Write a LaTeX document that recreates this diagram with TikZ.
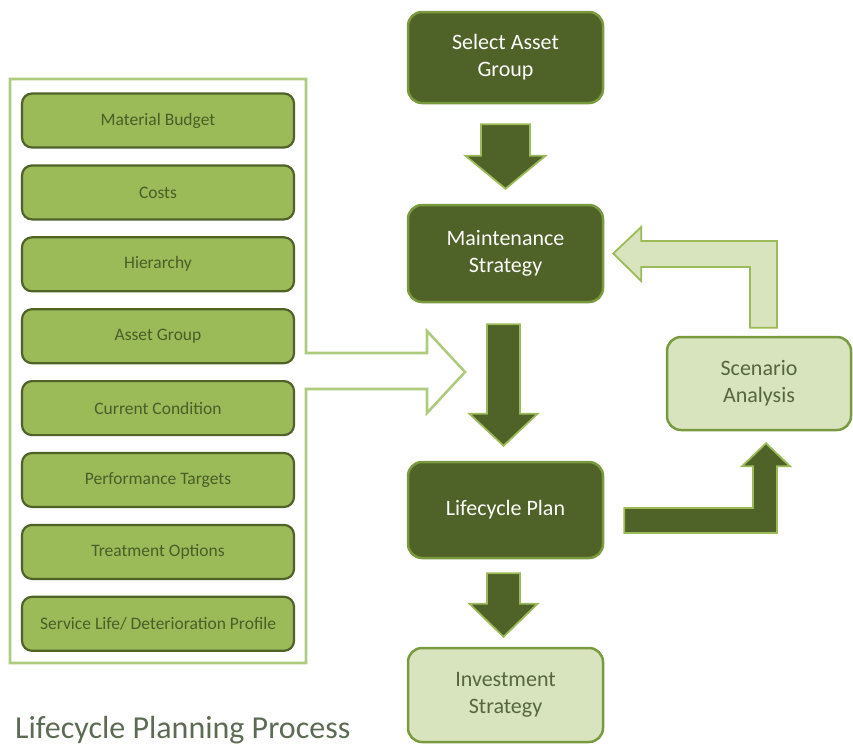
\documentclass[tikz,border=0pt]{standalone}
\usepackage{fontspec}
\setmainfont{Carlito}
\usetikzlibrary{calc}
\definecolor{olivedark}{HTML}{4F6228}
\definecolor{olivemid}{HTML}{9BBB59}
\definecolor{oliveedge}{HTML}{7A9A40}
\definecolor{olivepale}{HTML}{D7E4BD}
\definecolor{panelline}{HTML}{AFCB7E}
\definecolor{titlegray}{HTML}{5E6B54}
\definecolor{inputtext}{HTML}{4A5E27}
\definecolor{paletext}{HTML}{56663F}

\begin{document}
\begin{tikzpicture}[x=1pt,y=-1pt,
    stepdark/.style={rectangle, rounded corners=14pt, draw=oliveedge, line width=2.5pt,
      fill=olivedark, text=white!92!olivepale, minimum width=195pt, align=center,
      font=\fontsize{22}{27}\selectfont},
    steplight/.style={stepdark, fill=olivepale, draw=oliveedge, text=paletext},
    input/.style={rectangle, rounded corners=10pt, draw=olivedark, line width=2.2pt,
      fill=olivemid, text=inputtext, minimum width=272pt, minimum height=54pt,
      font=\fontsize{17.5}{20}\selectfont},
    darrow/.style={fill=olivedark, draw=olivemid, line width=1.8pt, line join=miter},
    larrow/.style={fill=olivepale, draw=olivemid, line width=1.8pt, line join=miter}]
  \useasboundingbox (0,0) rectangle (853,747);

  % input panel with its outgoing arrow
  \draw[panelline, fill=white, line width=2.6pt, line join=miter]
    (10,79) -- (306,79) -- (306,353) -- (427,353) -- (427,331) -- (465,372)
    -- (427,413) -- (427,389) -- (306,389) -- (306,663) -- (10,663) -- cycle;

  \foreach \txt [count=\i from 0] in {Material Budget, Costs, Hierarchy, Asset Group,
      Current Condition, Performance Targets, Treatment Options,
      Service Life/ Deterioration Profile}
    \node[input] (in\i) at (158,120.5+71.9*\i) {\txt};

  % process steps
  \node[stepdark, minimum height=91pt] (sel) at (505.5,57.5) {Select Asset\\Group};
  \node[stepdark, minimum height=97pt] (maint) at (505.5,253.5) {Maintenance\\Strategy};
  \node[stepdark, minimum height=96pt] (plan) at (505.5,510) {Lifecycle Plan};
  \node[steplight, minimum height=94pt] (inv) at (505.5,695) {Investment\\Strategy};
  \node[steplight, minimum width=184pt, minimum height=93pt] (scen) at (759,383.5) {Scenario\\Analysis};

  % block arrows
  \draw[darrow] let \p1=(sel.south), \p2=(maint.north) in
    (\x1-24.5pt,\y1-20pt) -- (\x1+24.5pt,\y1-20pt) -- (\x1+24.5pt,\y2+48pt)
    -- (\x1+40pt,\y2+48pt) -- (\x1,\y2+15pt) -- (\x1-40pt,\y2+48pt)
    -- (\x1-24.5pt,\y2+48pt) -- cycle;
  \draw[darrow] let \p1=(maint.south), \p2=(plan.north) in
    (\x1-18.5pt,\y1-21pt) -- (\x1+14.5pt,\y1-21pt) -- (\x1+14.5pt,\y2+47pt)
    -- (\x1+32pt,\y2+47pt) -- (\x1-2pt,\y2+15pt) -- (\x1-36pt,\y2+47pt)
    -- (\x1-18.5pt,\y2+47pt) -- cycle;
  \draw[darrow] let \p1=(plan.south), \p2=(inv.north) in
    (\x1-18.5pt,\y1-14pt) -- (\x1+14.5pt,\y1-14pt) -- (\x1+14.5pt,\y2+43pt)
    -- (\x1+32pt,\y2+43pt) -- (\x1-2pt,\y2+10pt) -- (\x1-36pt,\y2+43pt)
    -- (\x1-18.5pt,\y2+43pt) -- cycle;
  \draw[darrow] let \p1=(plan.east), \p2=(scen.south) in
    (\x1+20pt,\y1+2pt) -- (\x2-6pt,\y1+2pt) -- (\x2-6pt,\y2-35pt)
    -- (\x2-17pt,\y2-35pt) -- (\x2+7pt,\y2-12pt) -- (\x2+31pt,\y2-35pt)
    -- (\x2+18pt,\y2-35pt) -- (\x2+18pt,\y1-23pt) -- (\x1+20pt,\y1-23pt) -- cycle;
  \draw[larrow] let \p1=(scen.north), \p2=(maint.east) in
    (\x1-9pt,\y1+8pt) -- (\x1-9pt,\y2-13.5pt) -- (\x2+37pt,\y2-13.5pt)
    -- (\x2+37pt,\y2-27.5pt) -- (\x2+9pt,\y2) -- (\x2+37pt,\y2+26.5pt)
    -- (\x2+37pt,\y2+12.5pt) -- (\x1+18pt,\y2+12.5pt) -- (\x1+18pt,\y1+8pt) -- cycle;

  \node[anchor=base west, inner sep=0pt, text=titlegray, font=\fontsize{32}{38}\selectfont]
    (title) at (15,738) {Lifecycle Planning Process};
\end{tikzpicture}
\end{document}
